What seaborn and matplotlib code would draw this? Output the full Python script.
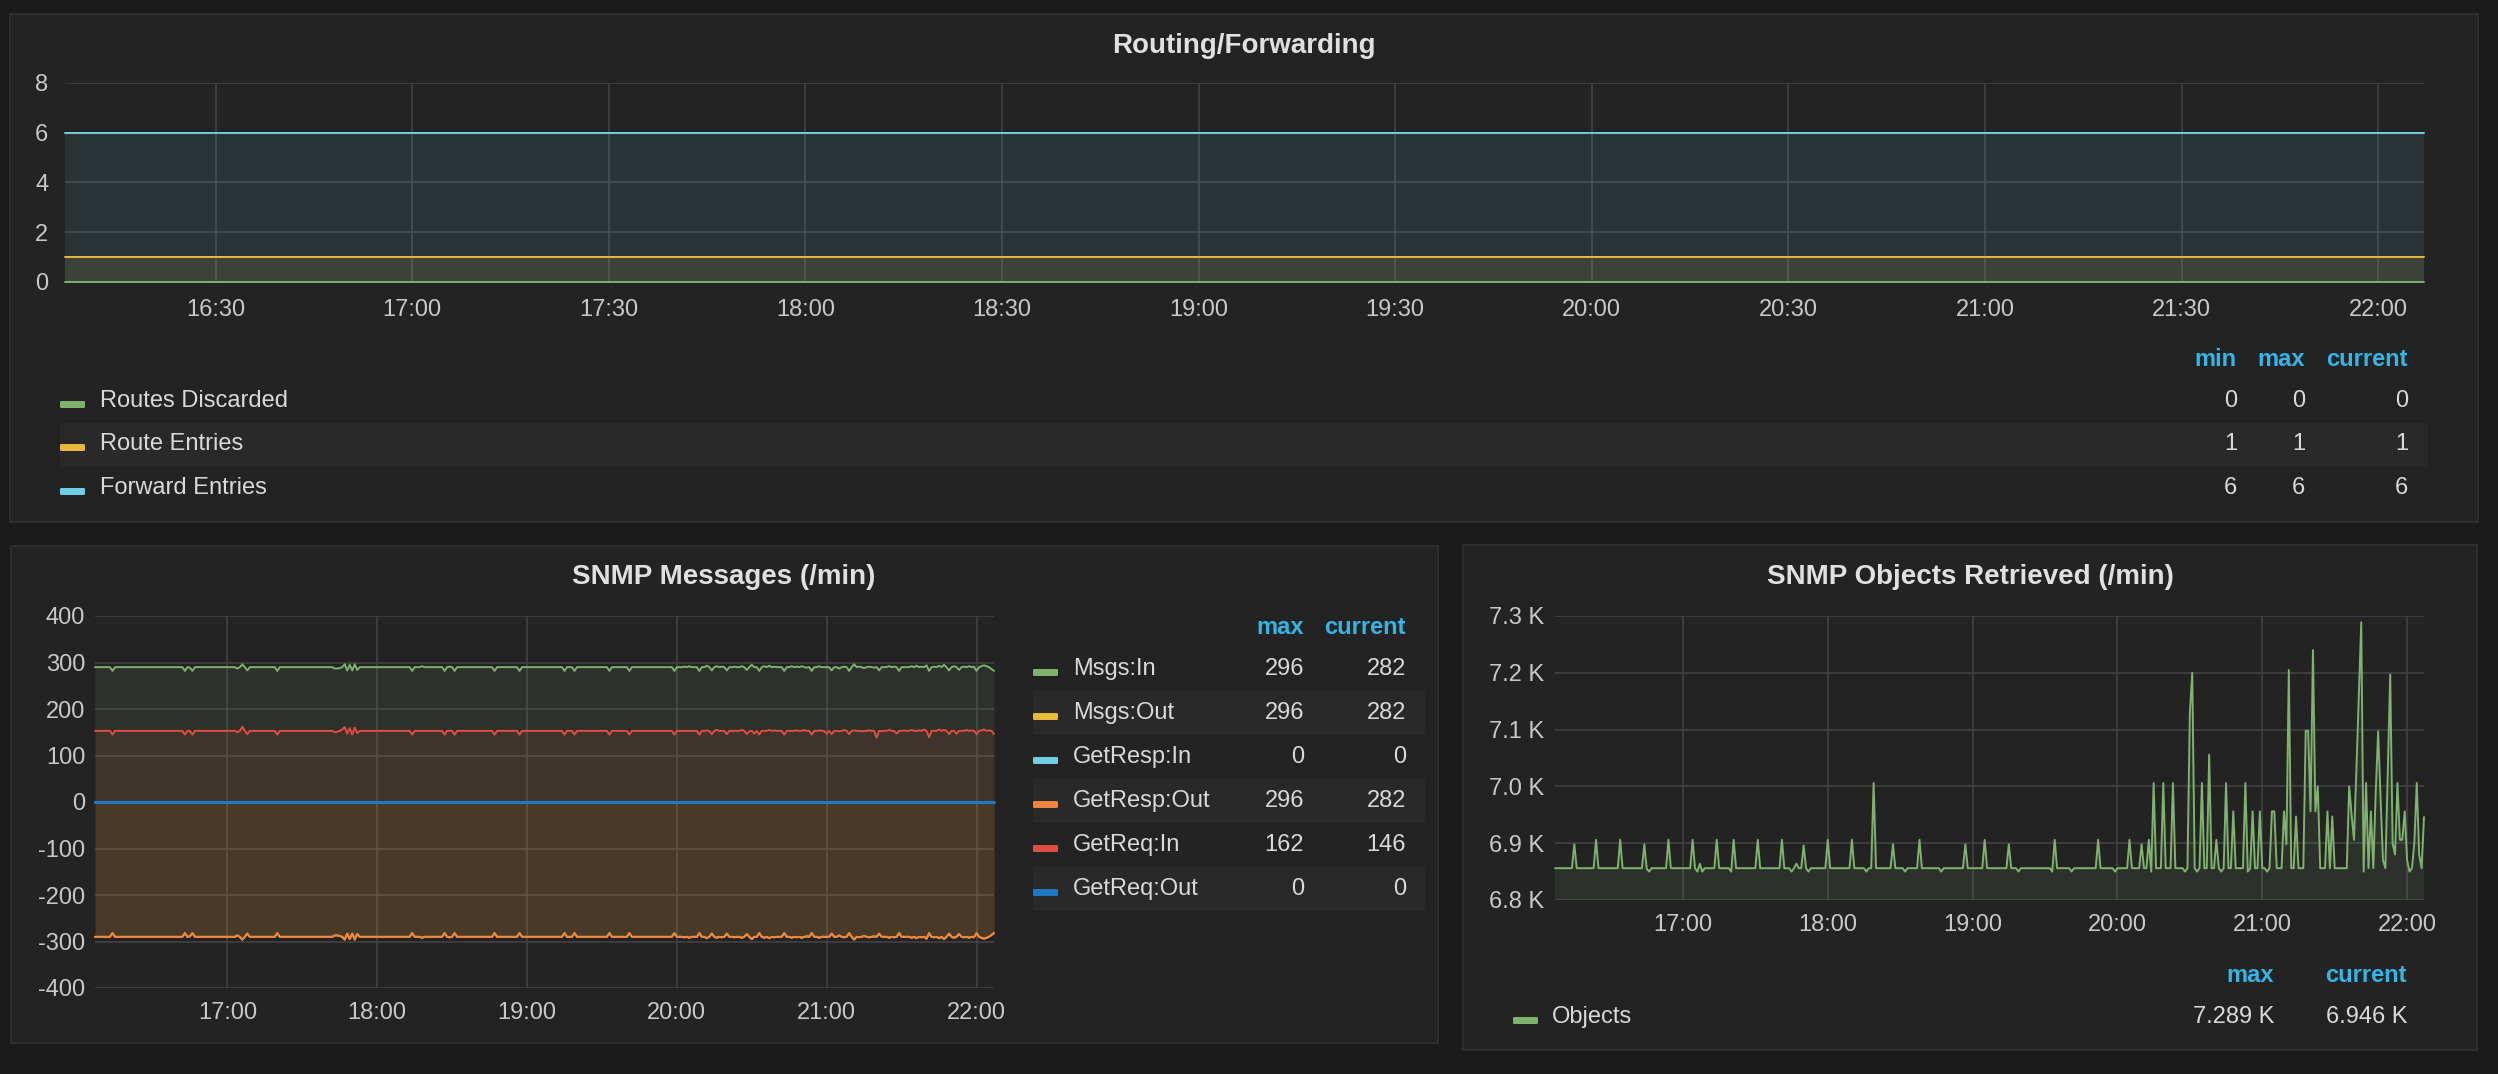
import matplotlib
matplotlib.use('Agg')
import matplotlib.pyplot as plt
import matplotlib.dates as mdates
from matplotlib.patches import Rectangle, FancyBboxPatch
from matplotlib.ticker import FuncFormatter
import numpy as np
import pandas as pd
import seaborn as sns

# ---------------------------------------------------------------------------------------
# Colours (grafana dark theme)
BG = '#1b1b1c'
PANEL = '#232324'
BORDER = '#2e2e2f'
STRIPE = '#29292a'
GRID = '#444445'
TICK = '#c8c8c8'
TEXT = '#d8d9da'
HEAD = '#33b5e5'
GREEN = '#7eb26d'
YELLOW = '#eab839'
CYAN = '#6ed0e0'
ORANGE = '#ef843c'
RED = '#e24d42'
BLUE = '#1f78c1'

sns.set_style('dark', {'axes.facecolor': PANEL, 'figure.facecolor': BG})
plt.rcParams['font.family'] = ['Liberation Sans', 'DejaVu Sans']
plt.rcParams['axes.unicode_minus'] = False

# ---------------------------------------------------------------------------------------
# Data: one sample per minute, 16:07 -> 22:07
times = pd.date_range('2017-03-06 16:07', '2017-03-06 22:07', freq='min')

route_names = ['Routes Discarded', 'Route Entries', 'Forward Entries']
route_levels = [0, 1, 6]
route_colors = [GREEN, YELLOW, CYAN]

msgs_in = [
    290, 290, 290, 290, 290, 290, 290, 282, 290, 290, 290, 290, 290, 290, 290, 290, 290, 290, 290, 290,
    290, 290, 290, 290, 290, 290, 290, 290, 290, 290, 290, 290, 290, 290, 290, 290, 282, 290, 289, 282,
    290, 290, 290, 290, 290, 290, 290, 290, 290, 290, 290, 290, 290, 290, 290, 290, 290, 287, 290, 296,
    290, 283, 290, 290, 290, 290, 290, 290, 290, 290, 290, 290, 290, 282, 290, 290, 290, 290, 290, 290,
    290, 290, 290, 290, 290, 290, 290, 290, 290, 290, 290, 290, 290, 290, 290, 290, 287, 287, 288, 290,
    296, 283, 295, 283, 296, 284, 290, 290, 290, 290, 290, 290, 290, 290, 290, 290, 290, 290, 290, 290,
    290, 290, 290, 290, 290, 290, 290, 282, 290, 290, 290, 292, 290, 290, 290, 290, 290, 290, 290, 290,
    282, 290, 291, 290, 282, 290, 290, 290, 290, 290, 290, 290, 290, 290, 290, 290, 290, 290, 290, 290,
    282, 290, 290, 290, 290, 290, 290, 290, 290, 290, 282, 290, 290, 290, 290, 290, 290, 290, 290, 290,
    290, 290, 290, 290, 290, 290, 290, 290, 282, 290, 290, 290, 282, 290, 290, 290, 290, 290, 290, 290,
    290, 290, 290, 290, 290, 290, 282, 290, 290, 290, 290, 290, 290, 290, 282, 290, 290, 290, 290, 290,
    290, 290, 290, 290, 290, 290, 290, 290, 290, 290, 290, 290, 282, 290, 290, 290, 291, 290, 292, 290,
    290, 290, 282, 290, 290, 293, 290, 283, 290, 292, 290, 291, 290, 283, 290, 290, 291, 290, 290, 292,
    290, 284, 290, 295, 290, 290, 282, 290, 292, 290, 293, 290, 291, 290, 290, 290, 282, 290, 290, 292,
    290, 291, 290, 292, 290, 289, 290, 282, 290, 290, 292, 290, 290, 290, 290, 283, 290, 290, 287, 290,
    291, 290, 282, 290, 296, 290, 291, 290, 288, 290, 291, 290, 289, 290, 283, 290, 290, 290, 292, 290,
    291, 290, 282, 290, 290, 290, 290, 292, 290, 293, 290, 291, 290, 294, 282, 290, 291, 290, 293, 290,
    295, 290, 283, 290, 292, 290, 284, 290, 291, 290, 292, 290, 291, 282, 290, 292, 294, 292, 290, 286,
    282,
]

getreq_in = [
    153, 153, 153, 153, 153, 153, 153, 145, 153, 153, 153, 153, 153, 153, 153, 153, 153, 153, 153, 153,
    153, 153, 153, 153, 153, 153, 153, 153, 153, 153, 153, 153, 153, 153, 153, 153, 145, 153, 153, 145,
    153, 153, 153, 153, 153, 153, 153, 153, 153, 153, 153, 153, 153, 153, 153, 153, 153, 150, 153, 162,
    153, 146, 153, 153, 153, 153, 153, 153, 153, 153, 153, 153, 153, 145, 153, 153, 153, 153, 153, 153,
    153, 153, 153, 153, 153, 153, 153, 153, 153, 153, 153, 153, 153, 153, 153, 153, 150, 151, 153, 156,
    161, 147, 159, 145, 160, 148, 153, 153, 153, 153, 153, 153, 153, 153, 153, 153, 153, 153, 153, 153,
    153, 153, 153, 153, 153, 153, 153, 145, 153, 153, 153, 153, 153, 153, 153, 153, 153, 153, 153, 153,
    145, 153, 153, 153, 145, 153, 153, 153, 153, 153, 153, 153, 153, 153, 153, 153, 153, 153, 153, 153,
    145, 153, 153, 153, 153, 153, 153, 153, 153, 153, 145, 153, 153, 153, 153, 153, 153, 153, 153, 153,
    153, 153, 153, 153, 153, 153, 153, 153, 145, 153, 153, 153, 145, 153, 153, 153, 153, 153, 153, 153,
    153, 153, 153, 153, 153, 153, 145, 153, 153, 153, 153, 153, 153, 153, 145, 153, 153, 153, 153, 153,
    153, 153, 153, 153, 153, 153, 153, 153, 153, 153, 153, 153, 145, 153, 153, 153, 153, 153, 153, 153,
    153, 153, 145, 153, 153, 154, 153, 146, 153, 155, 153, 153, 153, 146, 153, 153, 153, 153, 153, 155,
    153, 146, 152, 153, 147, 153, 145, 153, 153, 153, 155, 153, 154, 153, 153, 153, 145, 153, 153, 153,
    153, 154, 153, 153, 155, 153, 153, 145, 153, 153, 154, 153, 153, 147, 153, 146, 153, 153, 152, 153,
    155, 153, 146, 153, 154, 153, 153, 152, 153, 153, 154, 153, 153, 138, 153, 152, 153, 153, 155, 153,
    153, 147, 153, 153, 154, 153, 153, 155, 153, 153, 154, 153, 156, 153, 139, 153, 153, 153, 156, 153,
    155, 153, 146, 153, 153, 147, 153, 153, 153, 155, 153, 154, 153, 146, 153, 154, 156, 153, 154, 153,
    146,
]

# out-going series carry the same counts as Msgs:In and are drawn below zero
msgs_out = list(msgs_in)
getresp_out = list(msgs_in)
getresp_in_level = 0
getreq_out_level = 0

objects = [
    6856, 6856, 6856, 6856, 6856, 6856, 6856, 6856, 6898, 6856, 6856, 6856, 6856, 6856, 6856, 6856, 6856, 6906, 6856, 6856,
    6856, 6856, 6856, 6856, 6856, 6856, 6856, 6906, 6856, 6856, 6856, 6856, 6856, 6856, 6856, 6856, 6856, 6898, 6855, 6850,
    6856, 6856, 6856, 6856, 6856, 6856, 6856, 6906, 6856, 6856, 6856, 6856, 6856, 6856, 6856, 6856, 6856, 6906, 6856, 6850,
    6864, 6850, 6856, 6856, 6856, 6856, 6856, 6906, 6856, 6856, 6856, 6856, 6856, 6850, 6906, 6856, 6856, 6856, 6856, 6856,
    6856, 6856, 6856, 6856, 6906, 6856, 6856, 6856, 6856, 6856, 6856, 6856, 6856, 6856, 6906, 6856, 6856, 6856, 6850, 6856,
    6864, 6856, 6856, 6896, 6856, 6850, 6856, 6856, 6856, 6856, 6856, 6856, 6856, 6906, 6856, 6856, 6856, 6856, 6856, 6856,
    6856, 6856, 6856, 6906, 6856, 6856, 6856, 6856, 6856, 6850, 6856, 6856, 7006, 6856, 6856, 6856, 6856, 6856, 6856, 6856,
    6898, 6856, 6856, 6856, 6856, 6850, 6856, 6856, 6856, 6856, 6856, 6906, 6856, 6856, 6856, 6856, 6856, 6856, 6856, 6856,
    6850, 6856, 6856, 6856, 6856, 6856, 6856, 6856, 6856, 6856, 6898, 6856, 6856, 6856, 6856, 6856, 6856, 6856, 6906, 6856,
    6856, 6856, 6856, 6856, 6856, 6856, 6856, 6856, 6898, 6856, 6856, 6856, 6850, 6856, 6856, 6856, 6856, 6856, 6856, 6856,
    6856, 6856, 6856, 6856, 6856, 6856, 6850, 6906, 6856, 6856, 6856, 6856, 6856, 6856, 6850, 6856, 6856, 6856, 6856, 6856,
    6856, 6856, 6856, 6856, 6856, 6906, 6856, 6856, 6856, 6856, 6856, 6856, 6850, 6856, 6856, 6856, 6856, 6856, 6906, 6856,
    6856, 6856, 6856, 6898, 6856, 6856, 6906, 6850, 7006, 6856, 6856, 6856, 7006, 6856, 6856, 6856, 7006, 6856, 6856, 6856,
    6856, 6850, 6856, 7130, 7200, 6856, 6850, 6856, 7006, 6856, 6856, 7056, 6856, 6856, 6906, 6856, 6850, 6856, 7006, 6856,
    6856, 6956, 6856, 6856, 6856, 6856, 7006, 6850, 6856, 6956, 6856, 6856, 6956, 6856, 6856, 6850, 6856, 6956, 6956, 6856,
    6856, 6856, 6956, 6898, 7205, 6856, 6856, 6947, 6856, 6856, 6856, 7098, 7098, 6956, 7240, 6956, 7000, 6856, 6856, 6856,
    6956, 6856, 6947, 6856, 6856, 6856, 6856, 6856, 6856, 7000, 6950, 6906, 7030, 7160, 7289, 6850, 7006, 6856, 6956, 6856,
    6990, 7097, 6980, 6870, 6856, 7030, 7197, 6900, 6880, 7006, 6906, 6906, 6956, 6870, 6850, 6856, 6900, 7006, 6880, 6856,
    6946,
]

# ---------------------------------------------------------------------------------------
# Figure and pixel helpers
W, H = 2498, 1074
fig = plt.figure(figsize=(W / 100, H / 100), dpi=100, facecolor=BG)


def fx(x):
    return x / W


def fy(y):
    return 1 - y / H


def rect(x0, y0, x1, y1, fc, ec='none', lw=0, z=-2):
    fig.add_artist(Rectangle((fx(x0), fy(y1)), (x1 - x0) / W, (y1 - y0) / H,
                             transform=fig.transFigure, facecolor=fc,
                             edgecolor=ec, lw=lw, zorder=z))


def ftext(x, y, s, **kw):
    kw.setdefault('color', TEXT)
    kw.setdefault('fontsize', 17)
    fig.text(fx(x), fy(y), s, va='center', **kw)


def swatch(x0, y, color):
    fig.add_artist(FancyBboxPatch((fx(x0), fy(y + 7)), 25 / W, 7 / H,
                                  boxstyle='round,pad=0,rounding_size=0.0008',
                                  transform=fig.transFigure, facecolor=color,
                                  edgecolor='none', zorder=3))


def new_axes(x0, y0, x1, y1):
    return fig.add_axes([fx(x0), fy(y1), (x1 - x0) / W, (y1 - y0) / H])


def style_axes(ax, ylim, yticks, yfmt, xloc, xpad, ypad):
    ax.set_facecolor('none')
    ax.set_xlim(times[0], times[-1])
    ax.set_ylim(*ylim)
    ax.set_yticks(yticks)
    ax.yaxis.set_major_formatter(FuncFormatter(yfmt))
    ax.xaxis.set_major_locator(xloc)
    ax.xaxis.set_major_formatter(mdates.DateFormatter('%H:%M'))
    ax.grid(True, color=GRID, lw=1.1)
    ax.set_axisbelow(True)
    ax.tick_params(length=0, labelsize=17, colors=TICK)
    ax.tick_params(axis='x', pad=xpad)
    ax.tick_params(axis='y', pad=ypad)
    for s in ax.spines.values():
        s.set_visible(False)
    ax.set_xlabel('')
    ax.set_ylabel('')


def plot_series(ax, values, color, lw=1.4, fill=True):
    df = pd.DataFrame({'time': times, 'value': values})
    if fill:
        ax.fill_between(df['time'], 0, df['value'], color=color, alpha=0.1, lw=0)
    sns.lineplot(data=df, x='time', y='value', ax=ax, color=color, lw=lw,
                 legend=False, clip_on=False)


# ---------------------------------------------------------------------------------------
# Panels
rect(10, 14, 2478, 522, PANEL, BORDER, 1.5)
rect(11, 546, 1438, 1043, PANEL, BORDER, 1.5)
rect(1463, 545, 2477, 1050, PANEL, BORDER, 1.5)

ftext(1244, 46, 'Routing/Forwarding', ha='center', fontsize=20, fontweight='bold', color='#e0e0e0')
ftext(724, 577, 'SNMP Messages (/min)', ha='center', fontsize=20, fontweight='bold', color='#e0e0e0')
ftext(1970, 577, 'SNMP Objects Retrieved (/min)', ha='center', fontsize=20, fontweight='bold', color='#e0e0e0')

# ---------------------------------------------------------------------------------------
# Routing/Forwarding
ax1 = new_axes(65, 83, 2424, 282)
for name, level, color in zip(route_names, route_levels, route_colors):
    plot_series(ax1, np.full(len(times), level), color)
style_axes(ax1, (0, 8), [0, 2, 4, 6, 8], lambda v, p: f'{v:.0f}',
           mdates.MinuteLocator(byminute=[0, 30]), 12, 12)

heads1 = [('min', 2237), ('max', 2305), ('current', 2408)]
for h, xr in heads1:
    ftext(xr, 360, h, ha='right', color=HEAD, fontweight='bold')
rows1_y = [401, 444, 488]
rect(60, 423, 2428, 467, STRIPE, z=-1)
for name, level, color, y in zip(route_names, route_levels, route_colors, rows1_y):
    swatch(60, y, color)
    ftext(100, y, name)
    for (h, xr) in heads1:
        ftext(xr, y, f'{level}', ha='right')

# ---------------------------------------------------------------------------------------
# SNMP Messages
ax2 = new_axes(95, 616, 994, 988)
plot_series(ax2, msgs_in, GREEN)
plot_series(ax2, [-v for v in msgs_out], YELLOW)
plot_series(ax2, np.full(len(times), getresp_in_level), CYAN)
plot_series(ax2, [-v for v in getresp_out], ORANGE)
plot_series(ax2, getreq_in, RED)
plot_series(ax2, np.full(len(times), getreq_out_level), BLUE, lw=2.2)
style_axes(ax2, (-400, 400), list(range(-400, 401, 100)), lambda v, p: f'{v:.0f}',
           mdates.HourLocator(), 10, 7)

msg_names = ['Msgs:In', 'Msgs:Out', 'GetResp:In', 'GetResp:Out', 'GetReq:In', 'GetReq:Out']
msg_colors = [GREEN, YELLOW, CYAN, ORANGE, RED, BLUE]
msg_series = [msgs_in, msgs_out, [getresp_in_level], getresp_out, getreq_in, [getreq_out_level]]
ftext(1304, 628, 'max', ha='right', color=HEAD, fontweight='bold')
ftext(1406, 628, 'current', ha='right', color=HEAD, fontweight='bold')
for k, (name, color, vals) in enumerate(zip(msg_names, msg_colors, msg_series)):
    y = 669 + 44 * k
    if k % 2 == 1:
        rect(1033, y - 22, 1425, y + 22, STRIPE, z=-1)
    swatch(1033, y, color)
    ftext(1073, y, name)
    ftext(1304, y, f'{max(vals):.0f}', ha='right')
    ftext(1406, y, f'{vals[-1]:.0f}', ha='right')

# ---------------------------------------------------------------------------------------
# SNMP Objects Retrieved
ax3 = new_axes(1555, 616, 2424, 900)
plot_series(ax3, objects, GREEN)
style_axes(ax3, (6800, 7300), list(range(6800, 7301, 100)), lambda v, p: f'{v / 1000:.1f} K',
           mdates.HourLocator(), 10, 8)

ftext(2274, 976, 'max', ha='right', color=HEAD, fontweight='bold')
ftext(2407, 976, 'current', ha='right', color=HEAD, fontweight='bold')
swatch(1513, 1017, GREEN)
ftext(1552, 1017, 'Objects')
ftext(2274, 1017, f'{max(objects) / 1000:.3f} K', ha='right')
ftext(2407, 1017, f'{objects[-1] / 1000:.3f} K', ha='right')

fig.savefig('out.png', dpi=100, facecolor=BG)
